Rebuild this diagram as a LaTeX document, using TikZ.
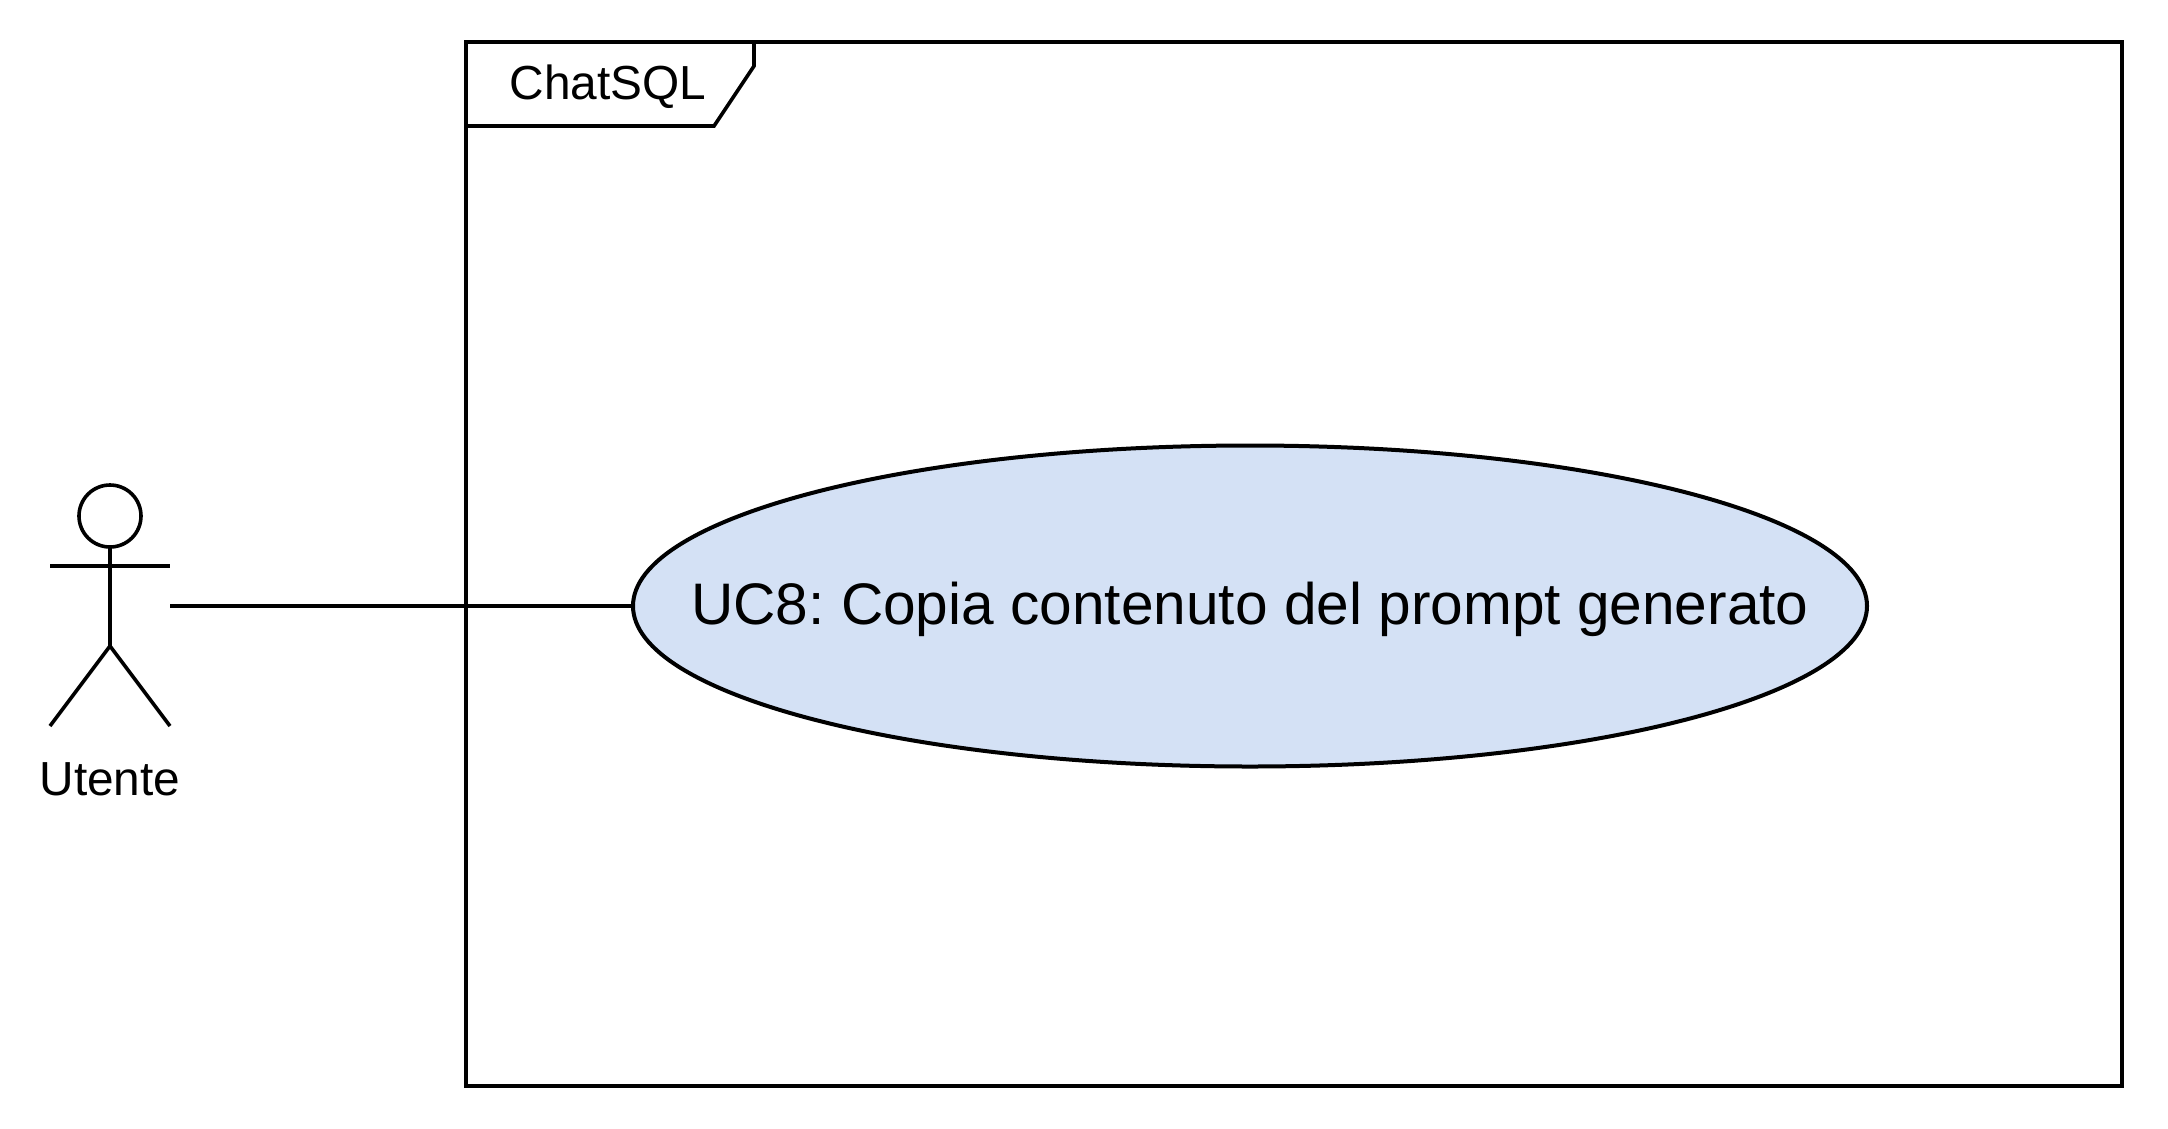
\documentclass[tikz,border=0pt]{standalone}
\usepackage{fontspec}
\setmainfont{Liberation Sans}
\usetikzlibrary{shapes.geometric}
\definecolor{ucfill}{HTML}{D4E1F5}
\frenchspacing
\tikzset{
  stroke/.style={draw=black,line width=4pt,line join=miter},
  thinstroke/.style={draw=black,line width=3.6pt},
  label46/.style={inner sep=0pt,outer sep=0pt,anchor=base,font=\fontsize{47.8}{50}\selectfont},
  usecase/.style={ellipse,stroke,fill=ucfill,inner sep=0pt,outer sep=0pt,minimum width=1234pt,minimum height=321pt,font=\fontsize{58.6}{64}\selectfont},
  framebox/.style={rectangle,stroke,fill=white,inner sep=0pt,outer sep=0pt,minimum width=1656pt,minimum height=1044pt}
}
\begin{document}
\begin{tikzpicture}[x=1pt,y=-1pt]
\useasboundingbox[fill=white] (0,0) rectangle (2168,1128);
% system frame
\node[framebox] (frame) at (1294,564) {};
\coordinate (tabA) at (754,42);
\coordinate (tabB) at (754,66);
\coordinate (tabC) at (714,126);
\coordinate (tabD) at (466,126);
\draw[thinstroke] (tabA) -- (tabB) -- (tabC) -- (tabD);
\node[label46] (sys) at (608,99) {ChatSQL};
% use case
\node[usecase] (uc) at (1250,606) {\raisebox{-18pt}[0pt][0pt]{\makebox[0pt][c]{UC8: Copia contenuto del prompt generato}}};
% actor
\node[thinstroke,circle,inner sep=0pt,outer sep=0pt,minimum size=62pt] (head) at (110,516) {};
\coordinate (armL) at (50,566);
\coordinate (armR) at (170,566);
\coordinate (hip) at (110,646);
\coordinate (legL) at (50,726);
\coordinate (legR) at (170,726);
\draw[thinstroke] (head.south) -- (hip);
\draw[stroke] (armL) -- (armR);
\draw[thinstroke] (legL) -- (hip) -- (legR);
\node[label46] (actor) at (110,795) {Utente};
% association
\coordinate (assoc) at (170,606);
\draw[stroke] (assoc) -- (uc.west);
\end{tikzpicture}
\end{document}
